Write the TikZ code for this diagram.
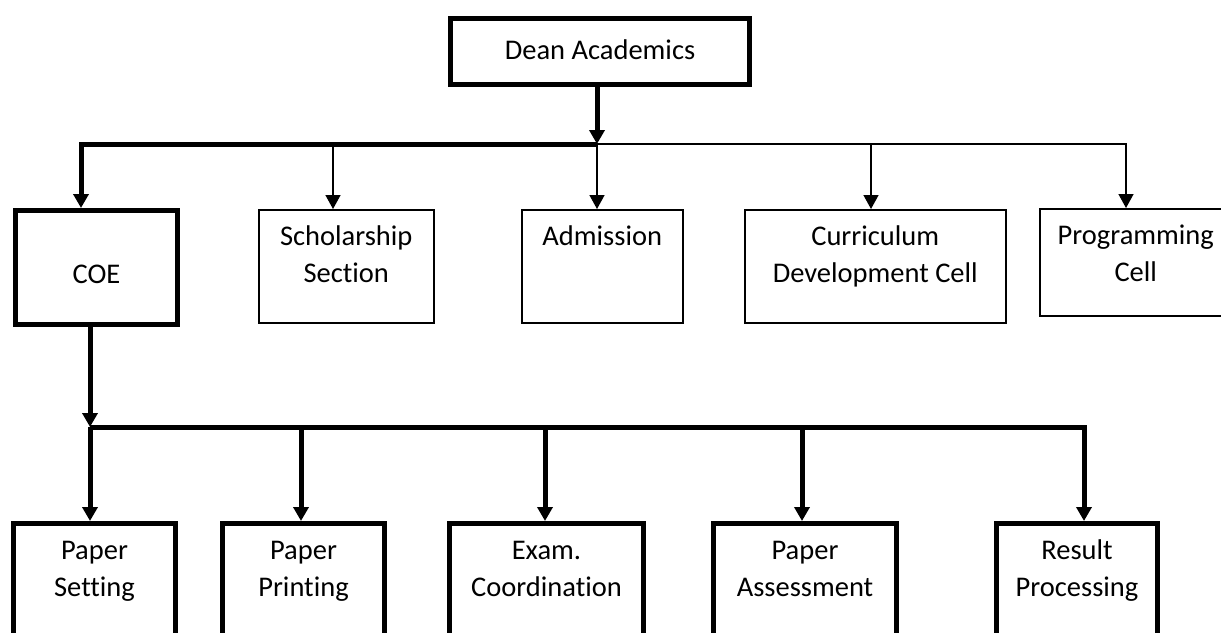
\documentclass[tikz,border=0pt]{standalone}
\usepackage{fontspec}
\setmainfont{Carlito}[Ligatures=NoCommon]
\usetikzlibrary{arrows.meta}
\newcommand\cellbox[4]{\parbox[t][#2][t]{#1}{\centering\rule{0pt}{#3}#4}}
\begin{document}
\begin{tikzpicture}[x=0.5pt,y=-0.5pt,
  >={Triangle[length=7pt,width=7.5pt]},
  unit/.style={draw,anchor=north west,inner sep=0pt,
    font=\fontsize{14.25}{18.5}\selectfont},
  heavy/.style={line width=2.5pt},
  light/.style={line width=0.75pt}]
\clip (0,0) rectangle (1221,632);
\def\ytop{144}
\def\ylow{427}
% head
\node[unit,heavy] (dean) at (448,16) {\cellbox{149.5pt}{33pt}{20.5pt}{Dean Academics}};
% first level
\node[unit,heavy] (coe) at (13,208) {\cellbox{81pt}{57pt}{18pt}{\\COE}};
\node[unit,light] (sch) at (258,209) {\cellbox{87.5pt}{56.5pt}{18pt}{Scholarship\\Section}};
\node[unit,light] (adm) at (521,209) {\cellbox{80.5pt}{56.5pt}{18pt}{Admission}};
\node[unit,light] (cdc) at (744,209) {\cellbox{130.5pt}{56.5pt}{18pt}{Curriculum\\Development Cell}};
\node[unit,light] (prg) at (1039,208) {\cellbox{96pt}{53.5pt}{18pt}{Programming\\Cell}};
\foreach \n/\x in {coe/81,sch/333,adm/597,cdc/871,prg/1126}
  \coordinate (d\n) at (\x,\ytop);
\draw[heavy,->] (dean.south -| dadm) -- (dadm);
\draw[heavy,->] (dadm) -- (dcoe) -- (dcoe |- coe.north);
\draw[light] (dadm) -- (dcdc);
\draw[light,->] (dcdc) -- (dprg) -- (dprg |- prg.north);
\foreach \n in {sch,adm,cdc}
  \draw[light,->] (d\n) -- (d\n |- \n.north);
% second level
\foreach \n/\x/\w/\t in {ps/11/81pt/{Paper\\Setting},pp/220/81pt/{Paper\\Printing},
    ec/447/97pt/{Exam.\\Coordination},pa/711/91.5pt/{Paper\\Assessment},
    rp/994/80.5pt/{Result\\Processing}}
  \node[unit,heavy] (\n) at (\x,521) {\cellbox{\w}{70pt}{18pt}{\t}};
\foreach \n/\x in {ps/90,pp/301,ec/545,pa/802,rp/1084}
  \coordinate (l\n) at (\x,\ylow);
\draw[heavy,->] (coe.south -| lps) -- (lps);
\draw[heavy,->] (lps) -- (lrp) -- (lrp |- rp.north);
\foreach \n in {ps,pp,ec,pa}
  \draw[heavy,->] (l\n) -- (l\n |- \n.north);
\end{tikzpicture}
\end{document}
